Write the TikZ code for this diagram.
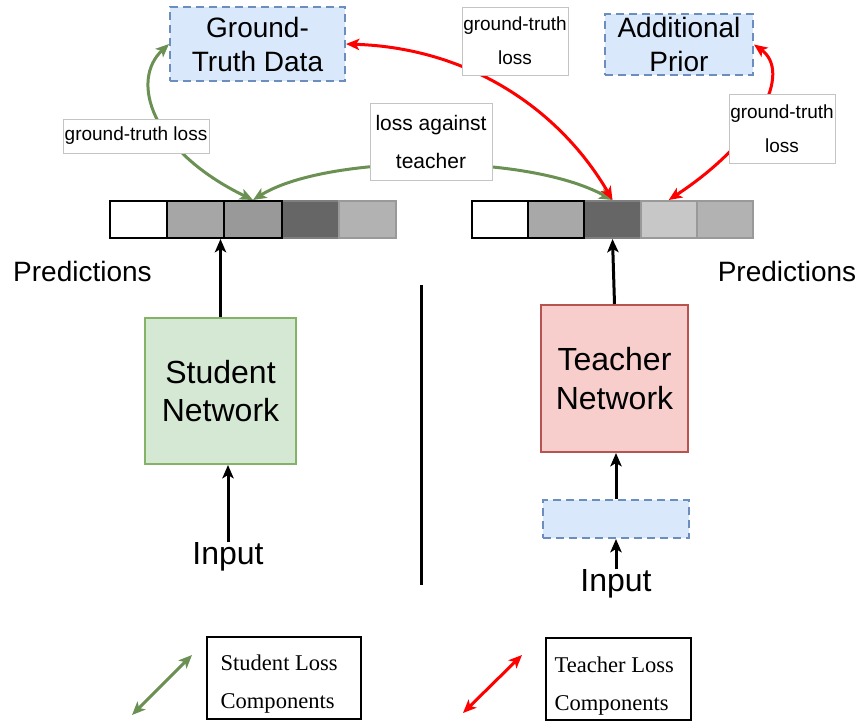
\documentclass[tikz,border=0pt]{standalone}
\usepackage{fontspec}
\setmainfont{Liberation Sans}
\newfontfamily\legfont{Liberation Serif}
\usetikzlibrary{arrows.meta}
\definecolor{gtfill}{HTML}{DAE8FC}
\definecolor{gtdraw}{HTML}{6C8EBF}
\definecolor{sfill}{HTML}{D5E8D4}
\definecolor{sdraw}{HTML}{82B366}
\definecolor{tfill}{HTML}{F8CECC}
\definecolor{tdraw}{HTML}{B85450}
\definecolor{garrow}{HTML}{6A9153}
\definecolor{lblborder}{HTML}{C4C4C4}
\definecolor{cellgray}{HTML}{7F7F7F}
\tikzset{
  dbox/.style={draw=gtdraw, fill=gtfill, line width=1.5pt, dash pattern=on 6pt off 3.75pt, align=center, inner sep=0pt},
  lbl/.style={draw=lblborder, fill=white, line width=0.75pt, align=center, inner sep=0pt,
    font=\fontsize{14.25pt}{25.5pt}\selectfont},
  netbox/.style={line width=1.5pt, align=center, inner sep=0pt,
    font=\fontsize{24pt}{28.8pt}\selectfont},
  lcell/.style={minimum width=42.9pt, minimum height=27.75pt, inner sep=0pt, line width=1.5pt},
  rcell/.style={minimum width=42.15pt, minimum height=27.75pt, inner sep=0pt, line width=1.5pt},
  garr/.style={draw=garrow, line width=2.25pt, {Stealth[length=10pt,width=8.5pt,inset=2.5pt]}-{Stealth[length=10pt,width=8.5pt,inset=2.5pt]}},
  rarr/.style={draw=red, line width=2.25pt, {Stealth[length=10pt,width=8.5pt,inset=2.5pt]}-{Stealth[length=10pt,width=8.5pt,inset=2.5pt]}},
  barr/.style={draw=black, line width=2.25pt, -{Stealth[length=10pt,width=8.5pt,inset=2.5pt]}},
  legbox/.style={draw=black, line width=0.9pt, inner sep=0pt},
  legtext/.style={align=left, inner sep=0pt, anchor=north west,
    font=\legfont\fontsize{16.9pt}{28.5pt}\selectfont},
  bigtxt/.style={inner sep=0pt, font=\fontsize{21pt}{24pt}\selectfont},
  inptxt/.style={inner sep=0pt, font=\fontsize{24pt}{28pt}\selectfont},
}
\begin{document}
\begin{tikzpicture}[x=0.75pt,y=-0.75pt]
\useasboundingbox (0,0) rectangle (861,721);

% top boxes
\node[dbox, minimum width=131.25pt, minimum height=55.5pt,
  font=\fontsize{21pt}{25.5pt}\selectfont] (gt) at (257.5,44) {Ground-\\Truth Data};
\node[dbox, minimum width=111pt, minimum height=45.75pt,
  font=\fontsize{21pt}{25.5pt}\selectfont] (ap) at (679,44.5) {Additional\\Prior};

% left prediction bar (gray-bordered cells first)
\node[lcell, draw=cellgray, fill=black!60] (L4) at (310.2,219.5) {};
\node[lcell, draw=cellgray!80, fill=black!30] (L5) at (367.4,219.5) {};
\node[lcell, draw=black, fill=white] (L1) at (138.6,219.5) {};
\node[lcell, draw=black, fill=black!35] (L2) at (195.8,219.5) {};
\node[lcell, draw=black, fill=black!40] (L3) at (253,219.5) {};

% right prediction bar
\node[rcell, draw=cellgray, fill=black!60] (R3) at (612.5,219.5) {};
\node[rcell, draw=cellgray!80, fill=black!22] (R4) at (668.7,219.5) {};
\node[rcell, draw=cellgray!80, fill=black!30] (R5) at (724.9,219.5) {};
\node[rcell, draw=black, fill=white] (R1) at (500.1,219.5) {};
\node[rcell, draw=black, fill=black!34] (R2) at (556.3,219.5) {};

\node[bigtxt] (predL) at (82.5,271) {Predictions};
\node[bigtxt] (predR) at (787,271) {Predictions};

% networks
\node[netbox, draw=sdraw, fill=sfill, minimum width=113.25pt, minimum height=109.5pt] (sn) at (220.5,391) {Student\\Network};
\node[netbox, draw=tdraw, fill=tfill, minimum width=110.25pt, minimum height=110.25pt] (tn) at (614.5,378.5) {Teacher\\Network};
\node[dbox, minimum width=109.5pt, minimum height=28.5pt] (bb) at (616,519) {};

\node[inptxt] (inS) at (228,557) {Input};
\node[inptxt] (inT) at (616,584) {Input};

% black arrows
\draw[barr] (sn.north) -- (sn.north |- L3.south);
\draw[barr] (inS.north) -- (inS.north |- sn.south);
\draw[barr] (tn.north) -- (R3.south);
\draw[barr] (bb.north) -- (bb.north |- tn.south);
\draw[barr] (inT.north) -- (inT.north |- bb.south);

% divider
\coordinate (d1) at (421,285);
\coordinate (d2) at (421,585);
\draw[line width=2.25pt] (d1) -- (d2);

% loss curves
\draw[garr] (L3.north) .. controls (150,150) and (130,80) .. (gt.west);
\draw[garr] (L3.north) .. controls (325,155) and (525,152) .. (R3.north);
\draw[rarr] (R3.north) .. controls (560,110) and (470,48) .. (gt.east);
\draw[rarr] (R4.north) .. controls (760,140) and (792,72) .. (ap.east);

% labels on curves
\node[lbl, minimum width=109.5pt, minimum height=25.5pt] (lblL) at (136,136) {ground-truth loss};
\node[lbl, minimum width=79.5pt, minimum height=51pt] (lblT) at (515,41) {ground-truth\\loss};
\node[lbl, minimum width=91.5pt, minimum height=57.75pt,
  font=\fontsize{15.75pt}{28.5pt}\selectfont] (lblS) at (431,141.5) {loss against\\teacher};
\node[lbl, minimum width=79.5pt, minimum height=51.75pt] (lblR) at (782,128.5) {ground-truth\\loss};

% legend
\coordinate (g1) at (132,715);
\coordinate (g2) at (192,655);
\draw[garr] (g1) -- (g2);
\coordinate (r1) at (463,713);
\coordinate (r2) at (522,655);
\draw[rarr] (r1) -- (r2);
\node[legbox, minimum width=115.5pt, minimum height=61.5pt] (legS) at (284,678) {};
\node[legtext] (legSt) at ([shift={(14,18.5)}]legS.north west) {Student Loss\\Components};
\node[legbox, minimum width=108.75pt, minimum height=61.5pt] (legT) at (618.5,679) {};
\node[legtext] (legTt) at ([shift={(9,19)}]legT.north west) {Teacher Loss\\Components};
\end{tikzpicture}
\end{document}
